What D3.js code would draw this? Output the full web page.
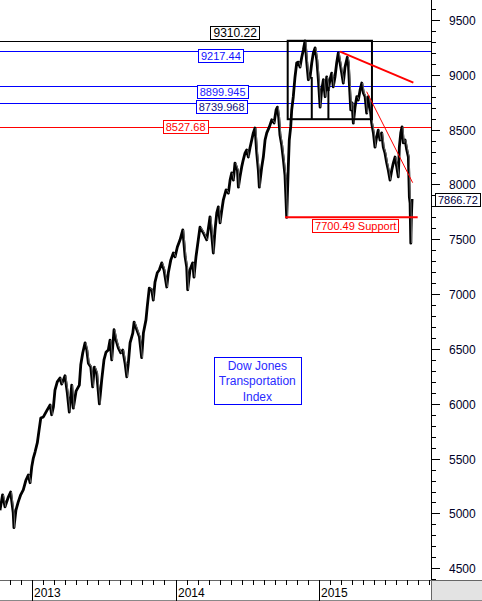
<!DOCTYPE html>
<html><head><meta charset="utf-8">
<script src="https://cdn.jsdelivr.net/npm/d3@7"></script>
<style>html,body{margin:0;padding:0;background:#fff;}svg{display:block;}</style>
</head><body>
<svg id="chart" width="482" height="601"></svg>
<script>
// ---- DATA (time in decimal years, values in index points) ----
const times = [2012.775,2012.793,2012.810,2012.833,2012.849,2012.867,2012.872,2012.886,2012.902,2012.919,2012.937,2012.956,2012.972,2012.984,2012.996,
2013.007,2013.019,2013.035,2013.047,2013.059,2013.077,2013.100,2013.124,2013.135,2013.147,2013.158,2013.174,2013.193,2013.205,2013.216,2013.228,2013.244,2013.258,2013.275,2013.286,2013.305,2013.328,2013.338,2013.352,2013.368,2013.380,2013.391,2013.408,2013.421,2013.433,2013.449,2013.468,2013.484,2013.500,2013.514,2013.530,2013.542,2013.554,2013.570,2013.584,2013.600,2013.617,2013.631,2013.647,2013.659,2013.670,2013.682,2013.701,2013.710,2013.729,2013.747,2013.763,2013.775,2013.793,2013.802,2013.816,2013.833,2013.844,2013.856,2013.872,2013.886,2013.903,2013.919,2013.938,2013.949,2013.966,2013.984,2013.996,
2014.012,2014.031,2014.050,2014.066,2014.077,2014.084,2014.100,2014.119,2014.128,2014.142,2014.158,2014.170,2014.193,2014.217,2014.240,2014.263,2014.275,2014.287,2014.298,2014.310,2014.322,2014.333,2014.352,2014.368,2014.380,2014.391,2014.403,2014.414,2014.431,2014.438,2014.449,2014.461,2014.472,2014.484,2014.496,2014.507,2014.519,2014.531,2014.542,2014.554,2014.566,2014.577,2014.584,2014.601,2014.612,2014.624,2014.636,2014.654,2014.671,2014.687,2014.701,2014.710,2014.719,2014.728,2014.740,2014.752,2014.763,2014.770,2014.775,2014.786,2014.793,2014.803,2014.810,2014.821,2014.833,2014.845,2014.856,2014.868,2014.880,2014.891,2014.903,2014.915,2014.926,2014.938,2014.950,2014.961,2014.973,2014.985,2014.996,
2015.008,2015.019,2015.031,2015.043,2015.054,2015.066,2015.077,2015.089,2015.100,2015.112,2015.124,2015.135,2015.147,2015.159,2015.170,2015.182,2015.198,2015.205,2015.212,2015.222,2015.231,2015.240,2015.252,2015.264,2015.275,2015.287,2015.299,2015.310,2015.322,2015.333,2015.345,2015.357,2015.368,2015.380,2015.391,2015.403,2015.414,2015.426,2015.438,2015.449,2015.461,2015.473,2015.484,2015.496,2015.508,2015.519,2015.531,2015.543,2015.554,2015.561,2015.571,2015.580,2015.589,2015.601,2015.613,2015.624,2015.631,2015.636,2015.641,2015.645,2015.650];
const values = [5030,5170,5060,5150,5195,5005,4870,5030,5105,5170,5215,5305,5350,5280,5425,
5505,5560,5645,5760,5870,5880,5935,5990,5900,5970,6125,6200,6235,6180,6215,6255,6100,5925,6170,5960,6115,6170,6355,6465,6555,6490,6370,6335,6155,6335,6280,6000,6215,6400,6470,6490,6580,6400,6675,6580,6510,6465,6490,6370,6245,6370,6555,6645,6745,6675,6610,6420,6645,6765,6885,7055,7040,6945,7110,7195,7220,7285,7220,7065,7195,7310,7375,7340,
7430,7495,7585,7340,7250,7040,7220,7285,7155,7340,7495,7610,7560,7495,7705,7375,7585,7740,7795,7650,7765,7860,7950,7920,8040,8105,8040,8195,8130,7975,8070,8160,8225,8285,8315,8250,8335,8405,8470,8515,8285,8130,7975,8160,8250,8405,8470,8525,8590,8560,8680,8705,8615,8450,8360,8225,8085,7860,7700,8150,8405,8525,8680,8800,8980,9110,9115,9070,9160,9225,9310,9110,8955,8980,9110,9200,9245,9135,8955,
8705,8860,8955,8800,8980,8860,8955,9015,8890,8980,9110,9200,9110,9015,8925,9070,9160,9110,8925,8680,8745,8560,8705,8800,8770,8860,8925,8835,8800,8650,8800,8705,8560,8470,8340,8435,8495,8405,8470,8340,8285,8195,8130,8040,8130,8195,8250,8160,8070,8340,8470,8525,8380,8405,8315,8250,7885,7830,7465,7705,7866.72];
const lastValue = 7866.72;

// horizontal reference levels
const levelValues = [9310.22, 9217.44, 8899.945, 8739.968, 8527.68];
const levelLabels = ["9310.22", "9217.44", "8899.945", "8739.968", "8527.68"];
const levelLabelTimes = [2014.243, 2014.156, 2014.147, 2014.140, 2013.910];

// support line
const supportValue = 7700.49;
const supportTimes = [2014.763, 2015.689];
const supportLabel = "7700.49 Support";
const supportLabelTime = 2014.952;

// consolidation box (time range, value range)
const boxTimes = [2014.782, 2015.370];
const boxValues = [8595, 9310.22];
const boxInnerTimes = [2014.950, 2015.066];
const boxInnerTops = [8980, 8890];

// trend lines [t0, v0, t1, v1]
const trendThick = [2015.147, 9211, 2015.659, 8928];
const trendThin = [2015.333, 8846, 2015.654, 8016];

// y axis ticks
const yMajorTicks = [4500, 5000, 5500, 6000, 6500, 7000, 7500, 8000, 8500, 9000, 9500];
const yMinorTicks = d3.range(4400, 9700, 100);
const yearTicks = [2013, 2014, 2015];
const yearLabels = ["2013", "2014", "2015"];

const titleLines = ["Dow Jones", "Transportation", "Index"];
const titleTime = 2014.570;
const titleTopValue = 6430;
const titleBottomValue = 5998;

// ---- HELPERS ----
function toDate(t) {
  const y = Math.floor(t);
  const s = Date.UTC(y, 0, 1), e = Date.UTC(y + 1, 0, 1);
  return new Date(s + (t - y) * (e - s));
}

const W = 482, H = 601;
const plotRight = 431, plotBottom = 580;
const svg = d3.select("#chart");
const FONT = "Arial, 'Liberation Sans', sans-serif";

const x = d3.scaleUtc().domain([toDate(2012.775), toDate(2015.782)]).range([0, plotRight]);
const y = d3.scaleLinear().domain([4393, 9682]).range([plotBottom, 0]);

const series = times.map((t, i) => ({ d: toDate(t), v: values[i] }));

svg.append("rect").attr("width", W).attr("height", H).attr("fill", "#fff");
const plot = svg.append("g");

// level lines
const levelColors = ["#000", "#0000ff", "#0000ff", "#0000ff", "#ff0000"];
levelValues.forEach((v, i) => {
  plot.append("line").attr("x1", 0).attr("x2", plotRight)
    .attr("y1", Math.round(y(v)) + 0.5).attr("y2", Math.round(y(v)) + 0.5)
    .attr("stroke", levelColors[i]).attr("stroke-width", 1);
});

// price series
const line = d3.line().x(d => x(d.d)).y(d => y(d.v));
plot.append("path").datum(series).attr("d", line)
  .attr("fill", "none").attr("stroke", "#000").attr("stroke-width", 2.8)
  .attr("stroke-linejoin", "round");
for (let i = 1; i < series.length; i++) {
  if (series[i].v < series[i - 1].v) {
    plot.append("line")
      .attr("x1", x(series[i - 1].d) + 0.9).attr("y1", y(series[i - 1].v))
      .attr("x2", x(series[i].d) + 0.9).attr("y2", y(series[i].v))
      .attr("stroke", "#6a6a6a").attr("stroke-width", 1);
  }
}

// box
plot.append("rect")
  .attr("x", x(toDate(boxTimes[0]))).attr("y", y(boxValues[1]))
  .attr("width", x(toDate(boxTimes[1])) - x(toDate(boxTimes[0])))
  .attr("height", y(boxValues[0]) - y(boxValues[1]))
  .attr("fill", "none").attr("stroke", "#000").attr("stroke-width", 2);
boxInnerTimes.forEach((t, i) => {
  plot.append("line").attr("x1", x(toDate(t))).attr("x2", x(toDate(t)))
    .attr("y1", y(boxInnerTops[i])).attr("y2", y(boxValues[0]))
    .attr("stroke", "#000").attr("stroke-width", 2);
});

// trend lines
plot.append("line")
  .attr("x1", x(toDate(trendThick[0]))).attr("y1", y(trendThick[1]))
  .attr("x2", x(toDate(trendThick[2]))).attr("y2", y(trendThick[3]))
  .attr("stroke", "#ff0000").attr("stroke-width", 2);
plot.append("line")
  .attr("x1", x(toDate(trendThin[0]))).attr("y1", y(trendThin[1]))
  .attr("x2", x(toDate(trendThin[2]))).attr("y2", y(trendThin[3]))
  .attr("stroke", "#ff0000").attr("stroke-width", 1);

// support line
plot.append("line")
  .attr("x1", x(toDate(supportTimes[0]))).attr("x2", x(toDate(supportTimes[1])))
  .attr("y1", y(supportValue)).attr("y2", y(supportValue))
  .attr("stroke", "#ff0000").attr("stroke-width", 2);

// label boxes
function labelBox(g, text, lx, ly, size, color, border) {
  const t = g.append("text").attr("x", lx + 3).attr("y", ly)
    .attr("font-family", FONT).attr("font-size", size).attr("fill", color)
    .attr("dominant-baseline", "central").text(text);
  const bb = t.node().getBBox();
  g.insert("rect", () => t.node())
    .attr("x", Math.round(lx) + 0.5).attr("y", Math.round(ly - 7) + 0.5)
    .attr("width", Math.round(bb.width + 5)).attr("height", 13)
    .attr("fill", "#fff").attr("stroke", border).attr("stroke-width", 1);
}
const labelDy = [-7.5, 5.5, 6, 3.5, 0];
const labelSizes = [12, 11, 11, 11, 11];
const labelTextColors = ["#000", "#1010ff", "#2020ff", "#101080", "#ff0000"];
const labelBorders = ["#000", "#0000ff", "#0000ff", "#0000ff", "#ff0000"];
levelValues.forEach((v, i) => {
  labelBox(plot, levelLabels[i], x(toDate(levelLabelTimes[i])), y(v) + labelDy[i],
    labelSizes[i], labelTextColors[i], labelBorders[i]);
});
labelBox(plot, supportLabel, x(toDate(supportLabelTime)), y(supportValue) + 8.5, 11, "#ff0000", "#ff0000");

// title box
const tg = plot.append("g");
const tx = x(toDate(titleTime));
const ty0 = y(titleTopValue), ty1 = y(titleBottomValue);
tg.append("rect").attr("x", Math.round(tx - 43.5) + 0.5).attr("y", Math.round(ty0) + 0.5)
  .attr("width", 87).attr("height", Math.round(ty1 - ty0))
  .attr("fill", "#fff").attr("stroke", "#0000ff");
titleLines.forEach((s, i) => {
  tg.append("text").attr("x", tx).attr("y", ty0 + 13 + i * 15.5)
    .attr("text-anchor", "middle").attr("font-family", FONT).attr("font-size", 12)
    .attr("fill", "#2a2aff").text(s);
});

// right axis
const ax = svg.append("g");
ax.append("line").attr("x1", plotRight + 0.5).attr("x2", plotRight + 0.5)
  .attr("y1", 0).attr("y2", plotBottom).attr("stroke", "#000");
yMinorTicks.forEach(v => {
  const yy = Math.round(y(v)) + 0.5;
  if (yy < 0 || yy > plotBottom) return;
  const major = yMajorTicks.includes(v);
  ax.append("line").attr("x1", plotRight).attr("x2", plotRight + (major ? 9 : 5))
    .attr("y1", yy).attr("y2", yy).attr("stroke", "#000");
});
yMajorTicks.forEach(v => {
  ax.append("text").attr("x", 449).attr("y", y(v) + 1)
    .attr("dominant-baseline", "central").attr("font-family", FONT).attr("font-size", 12)
    .attr("fill", "#000028").text(v);
});

// last value box
labelBox(ax, String(lastValue), plotRight + 4, y(lastValue) + 0.5, 11, "#000040", "#000");

// bottom axis
const bx = svg.append("g");
bx.append("line").attr("x1", 0).attr("x2", W).attr("y1", plotBottom + 0.5).attr("y2", plotBottom + 0.5)
  .attr("stroke", "#666");
bx.append("rect").attr("x", plotRight + 0.5).attr("y", plotBottom + 0.5)
  .attr("width", W - plotRight).attr("height", H - plotBottom)
  .attr("fill", "#e3e3e3").attr("stroke", "#666");
bx.append("line").attr("x1", 0).attr("x2", W).attr("y1", H - 0.5).attr("y2", H - 0.5).attr("stroke", "#888");
const minorDates = [];
yearTicks.forEach(Y => {
  for (let k = 1; k < 13; k++) minorDates.push(new Date(Date.UTC(Y, 0, 1) + k * 28 * 864e5));
});
for (let k = 1; k < 4; k++) minorDates.push(new Date(Date.UTC(2013, 0, 1) - k * 28 * 864e5));
minorDates.forEach(d => {
  const xx = Math.round(x(d)) + 0.5;
  if (xx < 0 || xx > plotRight) return;
  bx.append("line").attr("x1", xx).attr("x2", xx).attr("y1", plotBottom).attr("y2", plotBottom + 5)
    .attr("stroke", "#000");
});
yearTicks.forEach((Y, i) => {
  const xx = Math.round(x(toDate(Y))) + 0.5;
  bx.append("line").attr("x1", xx).attr("x2", xx).attr("y1", plotBottom).attr("y2", H)
    .attr("stroke", "#000");
  bx.append("text").attr("x", xx + 1.5).attr("y", 597)
    .attr("font-family", FONT).attr("font-size", 12).attr("fill", "#000").text(yearLabels[i]);
});
</script>
</body></html>
